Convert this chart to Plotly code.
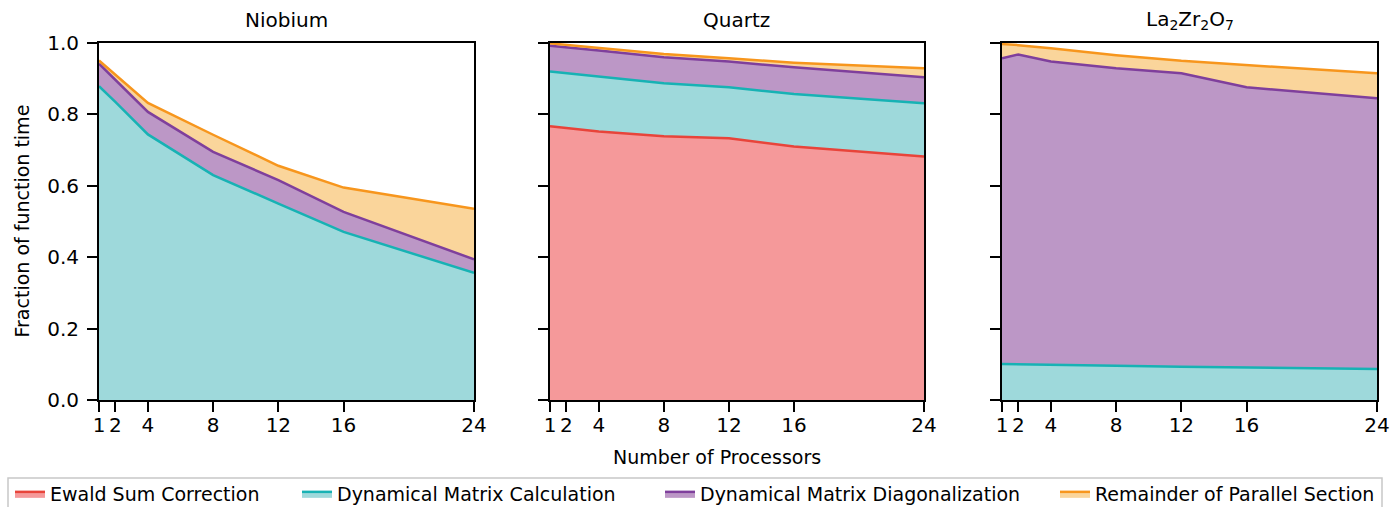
import plotly.graph_objects as go

# ---------------- data ----------------
processors = [1, 2, 4, 8, 12, 16, 24]
tick_labels = ["1", "2", "4", "8", "12", "16", "24"]
materials = ["Niobium", "Quartz", "La<sub>2</sub>Zr<sub>2</sub>O<sub>7</sub>"]
series_names = ["Ewald Sum Correction", "Dynamical Matrix Calculation",
                "Dynamical Matrix Diagonalization", "Remainder of Parallel Section"]

# fraction of function time for each component (stacked in this order)
niobium_ewald = [0.0, 0.0, 0.0, 0.0, 0.0, 0.0, 0.0]
niobium_dmcalc = [0.879, 0.835, 0.744, 0.630, 0.550, 0.471, 0.356]
niobium_dmdiag = [0.063, 0.062, 0.063, 0.065, 0.066, 0.056, 0.038]
niobium_remain = [0.009, 0.014, 0.025, 0.048, 0.040, 0.068, 0.142]

quartz_ewald = [0.767, 0.762, 0.752, 0.739, 0.733, 0.710, 0.682]
quartz_dmcalc = [0.153, 0.153, 0.154, 0.148, 0.143, 0.147, 0.149]
quartz_dmdiag = [0.072, 0.073, 0.073, 0.073, 0.072, 0.075, 0.073]
quartz_remain = [0.007, 0.007, 0.006, 0.009, 0.009, 0.013, 0.025]

lzo_ewald = [0.0, 0.0, 0.0, 0.0, 0.0, 0.0, 0.0]
lzo_dmcalc = [0.101, 0.100, 0.098, 0.096, 0.093, 0.091, 0.087]
lzo_dmdiag = [0.856, 0.868, 0.850, 0.833, 0.822, 0.785, 0.758]
lzo_remain = [0.040, 0.026, 0.037, 0.037, 0.035, 0.062, 0.070]

y_ticks = [0.0, 0.2, 0.4, 0.6, 0.8, 1.0]
y_tick_labels = ["0.0", "0.2", "0.4", "0.6", "0.8", "1.0"]

# ---------------- style ----------------
line_colors = ["#e8443a", "#17b2b4", "#7f3f9c", "#f7961d"]
fill_colors = ["#f5999a", "#9ed9db", "#bc97c6", "#fad59b"]
FONT = "DejaVu Sans, Verdana, sans-serif"
W, H = 1390, 507

panel_data = [
    [niobium_ewald, niobium_dmcalc, niobium_dmdiag, niobium_remain],
    [quartz_ewald, quartz_dmcalc, quartz_dmdiag, quartz_remain],
    [lzo_ewald, lzo_dmcalc, lzo_dmdiag, lzo_remain],
]
panel_px = [(99, 474), (550, 924), (1002, 1377)]
top_px, bot_px = 43, 400

fig = go.Figure()
legend_ids = ["legend", "legend2", "legend3", "legend4"]
for p, series in enumerate(panel_data):
    suffix = "" if p == 0 else str(p + 1)
    for s, vals in enumerate(series):
        all_zero = max(vals) == 0
        fig.add_trace(go.Scatter(
            x=processors, y=vals, mode="lines",
            stackgroup="stack%d" % p,
            line=dict(color=line_colors[s], width=0 if all_zero else 2.5),
            fillcolor=fill_colors[s],
            name=series_names[s],
            legendgroup=series_names[s],
            legend=legend_ids[s],
            showlegend=(p == 1),
            xaxis="x" + suffix, yaxis="y" + suffix,
        ))

layout = dict(
    width=W, height=H,
    margin=dict(l=0, r=0, t=0, b=0, autoexpand=False),
    paper_bgcolor="white", plot_bgcolor="white",
    font=dict(family=FONT, size=19, color="black"),
    showlegend=True,
)
ydom = [(H - bot_px) / H, (H - top_px) / H]
for p, (x0, x1) in enumerate(panel_px):
    suffix = "" if p == 0 else str(p + 1)
    layout["xaxis" + suffix] = dict(
        domain=[x0 / W, x1 / W], range=[1, 24],
        tickvals=processors, ticktext=tick_labels,
        showline=True, linecolor="black", linewidth=2, mirror=True,
        ticks="outside", ticklen=10, tickwidth=1.6, tickcolor="black",
        showgrid=False, zeroline=False, automargin=False,
        tickfont=dict(size=20, family=FONT), ticklabelstandoff=-4,
        anchor="y" + suffix,
    )
    layout["yaxis" + suffix] = dict(
        domain=ydom, range=[0, 1],
        tickvals=y_ticks, ticktext=y_tick_labels,
        showticklabels=(p == 0),
        showline=True, linecolor="black", linewidth=2, mirror=True,
        ticks="outside", ticklen=10, tickwidth=1.6, tickcolor="black",
        showgrid=False, zeroline=False, automargin=False,
        tickfont=dict(size=20, family=FONT), ticklabelstandoff=4,
        anchor="x" + suffix,
    )

# separate legends positioned like the single wide legend in the reference
legend_x_px = [10, 297, 660, 1055]
for i, lid in enumerate(legend_ids):
    layout[lid] = dict(
        x=legend_x_px[i] / W, xanchor="left",
        y=(H - 494) / H, yanchor="middle",
        orientation="h", bgcolor="rgba(0,0,0,0)",
        font=dict(size=19, family=FONT),
    )

annotations = []
for p, (x0, x1) in enumerate(panel_px):
    annotations.append(dict(
        text=materials[p], x=(x0 + x1) / 2 / W, y=(H - 20) / H,
        xref="paper", yref="paper", showarrow=False,
        xanchor="center", yanchor="middle", font=dict(size=20, family=FONT)))
annotations.append(dict(
    text="Fraction of function time", x=21 / W, y=(H - (top_px + bot_px) / 2) / H,
    xref="paper", yref="paper", showarrow=False, textangle=-90,
    xanchor="center", yanchor="middle", font=dict(size=19, family=FONT)))
annotations.append(dict(
    text="Number of Processors", x=717 / W, y=(H - 457) / H,
    xref="paper", yref="paper", showarrow=False,
    xanchor="center", yanchor="middle", font=dict(size=19, family=FONT)))
layout["annotations"] = annotations

layout["shapes"] = [dict(
    type="rect", xref="paper", yref="paper",
    x0=8 / W, x1=1382 / W, y0=-10 / H, y1=(H - 478) / H,
    line=dict(color="#c8c8c8", width=1.5), fillcolor="rgba(0,0,0,0)", layer="below")]

fig.update_layout(**layout)
fig.write_html("out.html")
